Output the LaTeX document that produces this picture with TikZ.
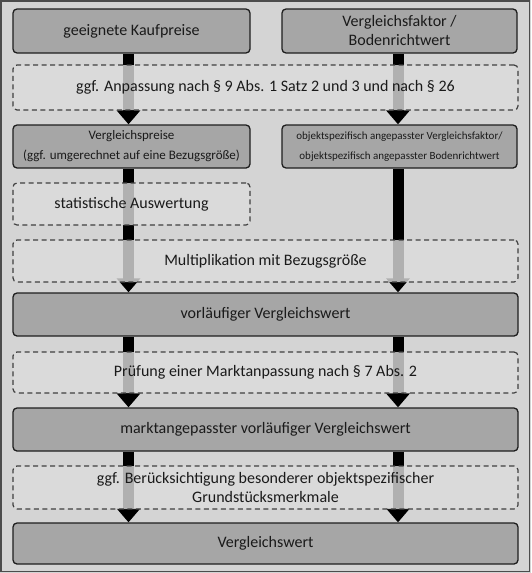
\documentclass[tikz,border=0pt]{standalone}
\usepackage{fontspec}
\setmainfont{Carlito}
\usetikzlibrary{arrows.meta}
\definecolor{bgc}{HTML}{D4D4D4}
\definecolor{solidc}{HTML}{A6A6A6}
\definecolor{dashc}{HTML}{DCDCDC}
\definecolor{edgec}{HTML}{1E1E1E}
\definecolor{txtc}{HTML}{1A1A1A}
\pgfdeclarelayer{bg}
\pgfdeclarelayer{arr}
\pgfsetlayers{bg,arr,main}
\tikzset{
  solidbox/.style={draw=edgec, line width=1.3pt, fill=solidc, rounded corners=4pt,
    align=center, text=txtc, inner sep=0pt, font=\fontsize{16}{19}\selectfont},
  dashbox/.style={draw=edgec!85, line width=1.2pt, dash pattern=on 5pt off 3.5pt,
    fill=dashc, fill opacity=0.8, text opacity=1, draw opacity=1, rounded corners=4pt,
    align=center, text=txtc, inner sep=0pt, font=\fontsize{16}{19}\selectfont},
  bigarrow/.style={line width=11pt, draw=black, -{Triangle[width=23pt,length=14pt]}}
}
\begin{document}
\begin{tikzpicture}[x=1pt,y=-1pt]
\useasboundingbox (0,0) rectangle (531,573);
\begin{pgfonlayer}{bg}
\fill[bgc] (0,0) rectangle (531,573);
\draw[line width=1.5pt, draw=black!70] (1,1) rectangle (529.5,571.5);
\end{pgfonlayer}
\coordinate (L) at (128.5,0);
\coordinate (R) at (398,0);
% solid boxes
\node[solidbox, minimum width=237pt, minimum height=44pt] (n1) at (131.5,31) {geeignete Kaufpreise};
\node[solidbox, minimum width=235pt, minimum height=44pt] (n2) at (399.5,31) {Vergleichsfaktor /\\Bodenrichtwert};
\node[solidbox, minimum width=237pt, minimum height=43pt, font=\fontsize{13}{20}\selectfont] (n4) at (131.5,146.5) {Vergleichspreise\\(ggf. umgerechnet auf eine Bezugsgröße)};
\node[solidbox, minimum width=235pt, minimum height=43pt, font=\fontsize{11}{20}\selectfont] (n5) at (399.5,146.5) {objektspezifisch angepasster Vergleichsfaktor/\\objektspezifisch angepasster Bodenrichtwert};
\node[solidbox, minimum width=505pt, minimum height=43pt] (n8) at (265.5,314.5) {vorläufiger Vergleichswert};
\node[solidbox, minimum width=505pt, minimum height=43pt] (n10) at (265.5,429.5) {marktangepasster vorläufiger Vergleichswert};
\node[solidbox, minimum width=505pt, minimum height=41pt] (n12) at (265.5,543.5) {Vergleichswert};
% dashed boxes
\node[dashbox, minimum width=505pt, minimum height=45pt] (d3) at (265.5,87.5) {ggf. Anpassung nach § 9 Abs. 1 Satz 2 und 3 und nach § 26};
\node[dashbox, minimum width=237pt, minimum height=42pt] (d6) at (131.5,204) {statistische Auswertung};
\node[dashbox, minimum width=505pt, minimum height=42pt] (d7) at (265.5,261) {Multiplikation mit Bezugsgröße};
\node[dashbox, minimum width=505pt, minimum height=41pt] (d9) at (265.5,372.5) {Prüfung einer Marktanpassung nach § 7 Abs. 2};
\node[dashbox, minimum width=505pt, minimum height=43pt] (d11) at (265.5,487.5) {ggf. Berücksichtigung besonderer objektspezifischer\\Grundstücksmerkmale};
% arrows
\begin{pgfonlayer}{arr}
\draw[bigarrow] (n1.south -| L) -- (n4.north -| L);
\draw[bigarrow] (n2.south -| R) -- (n5.north -| R);
\draw[bigarrow] (n4.south -| L) -- (n8.north -| L);
\draw[bigarrow] (n5.south -| R) -- (n8.north -| R);
\draw[bigarrow] (n8.south -| L) -- (n10.north -| L);
\draw[bigarrow] (n8.south -| R) -- (n10.north -| R);
\draw[bigarrow] (n10.south -| L) -- (n12.north -| L);
\draw[bigarrow] (n10.south -| R) -- (n12.north -| R);
\end{pgfonlayer}
\end{tikzpicture}
\end{document}
